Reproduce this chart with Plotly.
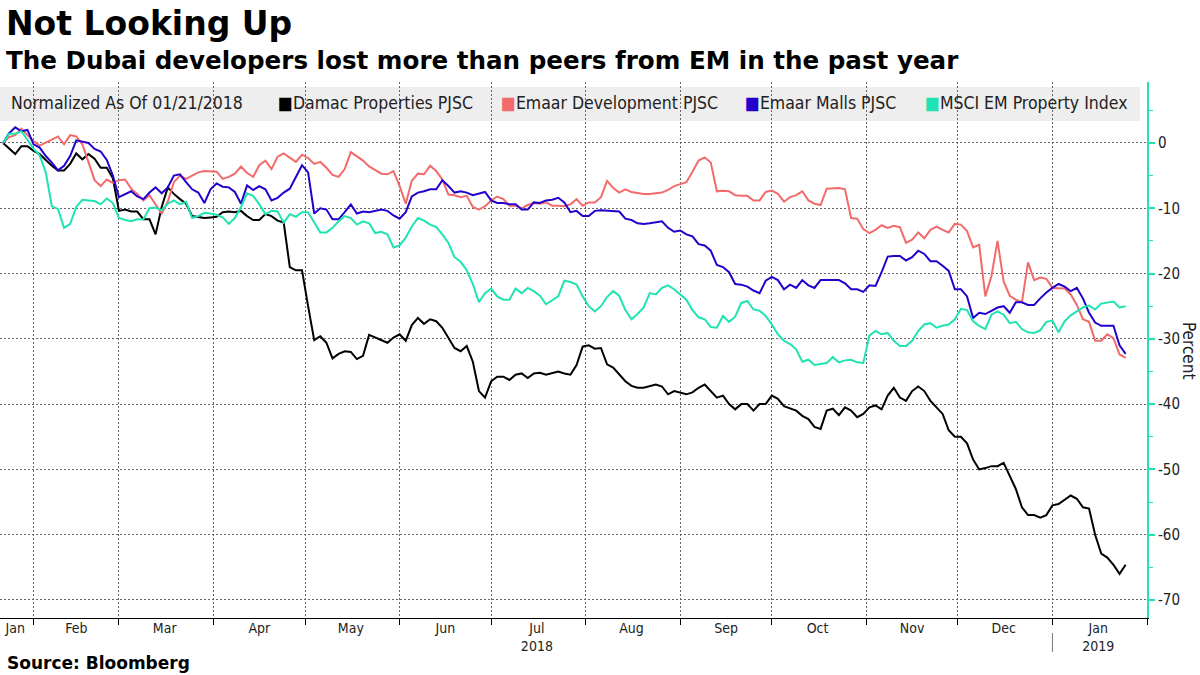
import pandas as pd
import plotly.graph_objects as go

# ---------------- data (every 2 calendar days) ----------------
dates = pd.date_range("2018-01-22", periods=185, freq="2D")

damac = [
    0, -0.8, -1.7, -0.5, -0.5, -1.2, -1.7, -2.6, -3.5, -4.2,
    -4.2, -3.2, -1.6, -2.5, -1.7, -2.4, -3.8, -3.8, -5.4, -10.4,
    -10.2, -10.5, -10.5, -11.7, -11.7, -14.0, -9.8, -6.8, -7.8, -8.6,
    -9.3, -11.2, -11.3, -11.5, -11.4, -11.3, -10.6, -10.5, -10.6, -10.4,
    -11.2, -11.8, -11.8, -10.9, -11.2, -11.9, -12.2, -19.0, -19.5, -19.5,
    -25.0, -30.2, -29.6, -30.6, -33.0, -32.3, -31.9, -32.0, -33.1, -32.6,
    -29.4, -29.8, -30.1, -30.6, -29.8, -29.3, -30.3, -27.9, -26.8, -27.7,
    -27.0, -27.3, -28.3, -29.9, -31.4, -31.9, -31.1, -33.5, -38.0, -39.0,
    -36.5, -35.8, -35.8, -36.3, -35.5, -35.3, -36.0, -35.3, -35.2, -35.5,
    -35.2, -35.0, -35.3, -35.5, -34.0, -31.2, -31.0, -31.5, -31.4, -33.9,
    -34.4, -35.5, -36.5, -37.2, -37.5, -37.5, -37.3, -37.0, -37.3, -38.5,
    -38.0, -38.2, -38.5, -38.2, -37.5, -37.0, -38.0, -39.0, -38.7, -40.0,
    -40.8, -40.0, -40.0, -41.0, -40.0, -40.0, -38.7, -39.2, -40.3, -40.7,
    -41.0, -41.8, -42.3, -43.5, -43.8, -41.0, -40.7, -41.7, -40.5, -41.0,
    -42.0, -41.5, -40.5, -40.2, -40.8, -38.7, -37.5, -39.0, -39.5, -38.0,
    -37.3, -38.0, -39.5, -40.5, -41.5, -44.0, -45.0, -45.0, -46.0, -48.5,
    -50.0, -49.8, -49.5, -49.5, -49.0, -51.0, -53.0, -55.8, -57.0, -57.0,
    -57.4, -57.0, -55.5, -55.3, -54.6, -54.0, -54.5, -55.8, -56.0, -60.0,
    -62.9, -63.5, -64.6, -66.0, -64.6]

emaar_dev = [
    0, 0.9, 1.2, 2.2, 1.2, 0.3, -0.4, 0.0, 0.5, 1.0,
    -0.2, 1.2, 1.0, -0.2, -3.0, -5.7, -6.6, -5.6, -6.1, -5.7,
    -5.6, -7.0, -7.8, -8.8, -8.0, -9.4, -10.8, -9.0, -6.0, -5.0,
    -5.5, -5.0, -4.5, -4.3, -4.4, -4.4, -5.5, -5.2, -4.7, -3.6,
    -4.6, -5.2, -3.4, -2.7, -4.0, -2.1, -1.6, -2.3, -2.9, -1.8,
    -2.3, -3.2, -2.9, -3.8, -4.9, -5.2, -4.0, -1.4, -2.1, -2.7,
    -3.6, -4.2, -4.7, -4.8, -4.3, -6.6, -9.3, -5.8, -4.7, -4.8,
    -3.5, -4.3, -5.6, -7.9, -8.0, -8.3, -8.1, -9.8, -10.2, -9.7,
    -8.8, -8.2, -8.6, -9.6, -9.6, -10.0, -9.5, -9.2, -9.3, -9.1,
    -9.6, -9.6, -9.7, -9.4, -8.6, -9.6, -9.1, -9.1, -8.3, -5.8,
    -6.9, -7.6, -7.1, -7.5, -7.7, -7.8, -7.8, -7.7, -7.6, -7.2,
    -6.6, -6.3, -6.0, -4.4, -2.7, -2.2, -3.0, -7.4, -7.3, -7.4,
    -8.0, -8.1, -8.1, -8.8, -8.8, -7.5, -7.3, -7.8, -9.0, -8.3,
    -8.0, -7.4, -8.8, -9.3, -9.5, -7.0, -7.0, -6.9, -7.1, -11.5,
    -11.6, -13.2, -13.8, -13.3, -12.6, -13.0, -12.7, -12.9, -15.3, -14.8,
    -13.7, -14.6, -13.3, -12.8, -13.3, -13.7, -12.4, -12.5, -13.5, -16.0,
    -15.6, -23.5, -20.4, -15.0, -21.2, -23.4, -24.0, -24.4, -18.3, -21.0,
    -20.6, -20.8, -22.2, -22.2, -22.3, -23.2, -24.8, -27.0, -27.4, -30.3,
    -30.3, -29.3, -29.9, -32.4, -32.9]

emaar_malls = [
    0, 1.5, 2.4, 1.8, 2.0, -0.2, -0.7, -2.0, -3.0, -4.2,
    -3.5, -2.0, 0.4, 0.2, 0.0, -0.9, -1.3, -2.6, -5.0, -8.3,
    -7.8, -7.4, -8.2, -8.6, -7.6, -6.8, -7.7, -6.8, -5.0, -4.8,
    -6.0, -7.1, -7.6, -9.2, -7.1, -6.2, -6.7, -6.8, -7.5, -9.3,
    -6.5, -7.2, -6.6, -7.1, -8.8, -8.4, -7.6, -7.0, -5.2, -3.4,
    -4.5, -10.8, -10.0, -10.2, -11.7, -11.7, -10.6, -9.4, -10.8, -10.5,
    -10.6, -10.4, -10.2, -10.4, -11.1, -11.6, -10.6, -8.2, -7.6, -7.4,
    -7.1, -7.1, -5.7, -6.6, -7.6, -7.4, -7.6, -8.0, -7.8, -7.5,
    -8.8, -9.2, -9.2, -9.4, -9.4, -10.2, -10.2, -9.1, -9.2, -8.8,
    -8.7, -8.4, -9.1, -10.6, -10.4, -11.2, -11.2, -10.4, -10.3, -10.4,
    -10.5, -10.5, -11.6, -11.8, -12.3, -12.4, -12.3, -12.1, -12.0, -13.0,
    -13.6, -13.4, -14.0, -14.3, -15.5, -15.7, -16.5, -18.7, -19.0, -19.8,
    -21.6, -21.7, -22.0, -22.6, -23.0, -21.1, -20.5, -21.0, -22.4, -21.7,
    -22.2, -21.0, -21.8, -22.2, -21.0, -21.0, -21.0, -21.0, -21.5, -22.4,
    -22.4, -22.8, -21.8, -21.9, -19.8, -17.4, -17.3, -17.3, -18.0, -17.5,
    -16.5, -17.0, -18.1, -18.1, -18.8, -19.6, -22.4, -22.4, -23.5, -26.8,
    -26.0, -26.2, -25.7, -25.2, -25.0, -26.0, -24.4, -24.4, -24.8, -24.8,
    -23.8, -22.9, -22.2, -21.6, -22.0, -22.7, -22.2, -23.8, -26.0, -27.5,
    -28.0, -28.0, -28.0, -31.0, -32.3]

msci = [
    0, 1.4, 1.4, 1.8, 0.5, -0.9, -1.9, -4.5, -9.7, -10.1,
    -13.0, -12.4, -9.8, -8.7, -8.8, -8.9, -9.4, -8.5, -9.2, -11.5,
    -11.8, -12.0, -11.7, -11.7, -10.0, -9.9, -10.3, -9.3, -8.8, -9.4,
    -9.0, -11.5, -11.2, -10.7, -10.8, -11.0, -11.4, -12.4, -11.5, -9.8,
    -7.7, -8.1, -9.4, -10.9, -10.4, -10.5, -12.2, -10.9, -11.3, -10.6,
    -10.6, -12.2, -13.7, -13.7, -13.0, -12.0, -11.2, -11.5, -12.5, -12.0,
    -12.3, -13.8, -13.6, -14.0, -16.0, -15.7, -14.5, -12.8, -11.5, -11.9,
    -12.5, -12.9, -14.0, -15.3, -17.5, -18.2, -19.5, -21.6, -24.4, -23.0,
    -22.3, -23.5, -24.0, -24.0, -22.3, -23.0, -22.2, -22.7, -23.4, -24.7,
    -24.1, -23.5, -21.1, -21.3, -21.7, -23.5, -25.0, -25.8, -25.0, -23.6,
    -22.7, -23.4, -25.6, -27.0, -26.2, -25.2, -23.0, -23.2, -22.2, -21.8,
    -22.4, -23.2, -24.0, -25.6, -26.7, -27.0, -28.2, -28.3, -26.5, -27.4,
    -26.6, -24.5, -24.2, -25.5, -25.7, -26.5, -27.8, -29.3, -30.3, -30.8,
    -31.6, -33.5, -33.2, -34.0, -33.9, -33.7, -32.8, -33.6, -33.3, -33.2,
    -33.6, -33.7, -29.5, -28.8, -29.3, -29.1, -30.3, -31.1, -31.1, -30.3,
    -28.8, -27.8, -27.6, -28.3, -28.0, -27.8, -27.0, -25.4, -25.6, -27.3,
    -28.0, -28.5, -26.3, -25.8, -26.3, -27.6, -27.4, -28.5, -29.0, -29.1,
    -28.7, -27.4, -27.2, -29.0, -27.3, -26.4, -25.8, -25.2, -24.9, -25.5,
    -24.6, -24.5, -24.3, -25.2, -25.0]

series_names = ["Damac Properties PJSC", "Emaar Development PJSC",
                "Emaar Malls PJSC", "MSCI EM Property Index"]
series_values = [damac, emaar_dev, emaar_malls, msci]
series_colors = ["#000000", "#f26b6b", "#2400cc", "#1fe3b2"]

month_label_dates = ["2018-01-26", "2018-02-15", "2018-03-16", "2018-04-16",
                     "2018-05-16", "2018-06-16", "2018-07-16", "2018-08-16",
                     "2018-09-16", "2018-10-16", "2018-11-16", "2018-12-16",
                     "2019-01-16"]
month_labels = ["Jan", "Feb", "Mar", "Apr", "May", "Jun", "Jul<br>2018", "Aug",
                "Sep", "Oct", "Nov", "Dec", "Jan<br>2019"]

y_ticks = [0, -10, -20, -30, -40, -50, -60, -70]
y_tick_text = ["0", "-10", "-20", "-30", "-40", "-50", "-60", "-70"]

# ---------------- figure ----------------
TXT = "DejaVu Sans Condensed, Liberation Sans Narrow, Roboto, sans-serif"
BOLD = "DejaVu Sans, sans-serif"
TEAL = series_colors[3]

fig = go.Figure()
for name, vals, col in zip(series_names, series_values, series_colors):
    fig.add_trace(go.Scatter(x=dates[:len(vals)], y=vals, mode="lines", name=name,
                             line=dict(color=col, width=2), showlegend=False,
                             hoverinfo="skip"))

W, H = 1200, 675
ML, MR, MT, MB = 0, 53, 82, 57
PW, PH = W - ML - MR, H - MT - MB


def px_x(p):
    return (p - ML) / PW


def px_y(p):
    return (H - MB - p) / PH


fig.update_layout(
    width=W, height=H,
    margin=dict(l=ML, r=MR, t=MT, b=MB),
    paper_bgcolor="white", plot_bgcolor="white",
    font=dict(family=TXT, size=14, color="#222"),
    xaxis=dict(
        type="date", range=["2018-01-21", "2019-02-01"],
        tickmode="array", tickvals=month_label_dates, ticktext=month_labels,
        ticks="", showgrid=False, zeroline=False,
        showline=True, linecolor="#000", linewidth=1,
        ticklabelstandoff=-3,
        tickfont=dict(family=TXT, size=14, color="#222"),
        minor=dict(dtick="M1", tick0="2018-02-01", showgrid=True,
                   gridcolor="#666", griddash="2px,2px", gridwidth=1,
                   ticks="outside", ticklen=6, tickcolor="#000", tickwidth=1),
    ),
    yaxis=dict(
        side="right", range=[-72.76, 9.34],
        tickmode="array", tickvals=y_ticks, ticktext=y_tick_text,
        showgrid=True, gridcolor="#666", griddash="2px,2px", gridwidth=1,
        zeroline=False, showline=True, linecolor=TEAL, linewidth=2,
        ticks="outside", ticklen=6, tickwidth=2, tickcolor=TEAL,
        tickfont=dict(family=TXT, size=15, color="#222"),
        minor=dict(dtick=5, tick0=0, ticks="outside", ticklen=4,
                   tickcolor=TEAL, tickwidth=1, showgrid=False),
    ),
)

# legend band
fig.add_shape(type="rect", xref="paper", yref="paper",
              x0=0, x1=px_x(1140), y0=px_y(121), y1=px_y(87),
              fillcolor="#eeeeee", line=dict(width=0), layer="below")

# year separator under Jan 2019
fig.add_shape(type="line", xref="x", yref="paper",
              x0="2019-01-01", x1="2019-01-01", y0=px_y(633), y1=px_y(652),
              line=dict(color="#777", width=1))

ann = []
ann.append(dict(text="<b>Not Looking Up</b>", x=px_x(4), y=px_y(23),
                font=dict(family=BOLD, size=33, color="#000")))
ann.append(dict(text="<b>The Dubai developers lost more than peers from EM in the past year</b>",
                x=px_x(4), y=px_y(61), font=dict(family=BOLD, size=24.6, color="#000")))
ann.append(dict(text="<b>Source: Bloomberg</b>", x=px_x(5), y=px_y(663),
                font=dict(family=BOLD, size=17, color="#000")))
ann.append(dict(text="Normalized As Of 01/21/2018", x=px_x(9), y=px_y(103),
                font=dict(family=TXT, size=17.5, color="#222")))
legend_x = [276, 499, 743, 923]
for name, col, lx in zip(series_names, series_colors, legend_x):
    ann.append(dict(text=f"<span style='color:{col}'>■</span>{name}",
                    x=px_x(lx), y=px_y(103),
                    font=dict(family=TXT, size=17.5, color="#222")))
for a in ann:
    a.update(xref="paper", yref="paper", xanchor="left", yanchor="middle",
             showarrow=False)
    fig.add_annotation(**a)

fig.add_annotation(text="Percent", xref="paper", yref="paper",
                   x=px_x(1189), y=px_y(350), textangle=90, showarrow=False,
                   xanchor="center", yanchor="middle",
                   font=dict(family=TXT, size=17, color="#222"))

fig.write_html("out.html",
               config={"displayModeBar": False},
               post_script="document.body.style.margin='0px';"
                           "document.body.style.overflow='hidden';")
